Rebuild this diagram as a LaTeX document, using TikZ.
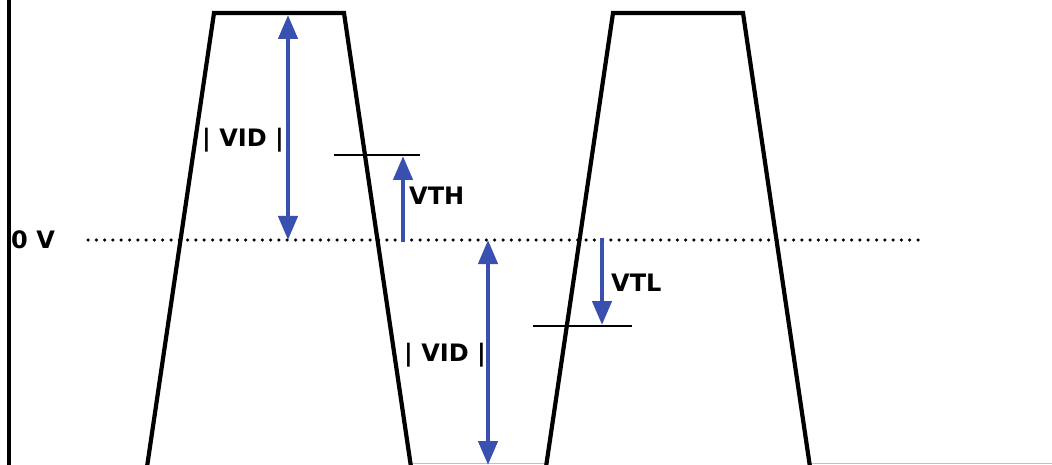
\documentclass[tikz,border=0pt]{standalone}
\usepackage{fontspec}
\setmainfont{DejaVu Sans}
\usetikzlibrary{arrows.meta}

\definecolor{levelblue}{RGB}{58,80,176}

\tikzset{
	wave/.style={line width=4.2pt, line join=miter},
	levelarrow/.style={levelblue, line width=4.5pt,
		-{Triangle[length=24pt, width=19pt]}},
	bothlevel/.style={levelblue, line width=4.5pt,
		{Triangle[length=24pt, width=19pt]}-{Triangle[length=24pt, width=19pt]}},
	threshold/.style={line width=2pt},
	lbl/.style={font=\bfseries\fontsize{24}{26}\selectfont, inner sep=0pt},
}

\begin{document}
\begin{tikzpicture}[x=1pt, y=-1pt]
	\useasboundingbox (0,0) rectangle (1052,465);

	% Frame edge and floor
	\draw [line width=3.5pt] (9,0) -- (9,465);
	\draw [black!25, line width=1pt] (410,463.5) -- (545,463.5);
	\draw [black!25, line width=1pt] (810,463.5) -- (1052,463.5);

	% Zero line
	\node (zero) [lbl, anchor=west] at (11,240) {0 V};
	\coordinate (zero start) at (88,240);
	\coordinate (zero end) at (918,240);
	\draw [line width=3.5pt, line cap=round, dash pattern=on 0pt off 8.3pt]
	      (zero start) -- (zero end);

	% Pulses
	\foreach \s in {0,399}{
		\draw [wave]
		      ([xshift=\s]147,467) -- ([xshift=\s]214,13)
		   -- ([xshift=\s]344,13) -- ([xshift=\s]411,467);
	}

	% High level
	\coordinate (top) at (288,15);
	\coordinate (zero a) at (288,240);
	\draw [bothlevel] (top) -- (zero a);
	\node (vid high) [lbl] at (243,140) {| VID |};

	\coordinate (th left) at (334,155);
	\coordinate (th right) at (420,155);
	\draw [threshold] (th left) -- (th right);
	\coordinate (zero b) at (403,242);
	\draw [levelarrow] (zero b) -- (403,156);
	\node (vth) [lbl, anchor=west] at (409,196) {VTH};

	% Low level
	\coordinate (zero c) at (488,240);
	\coordinate (floor) at (488,465);
	\draw [bothlevel] (zero c) -- (floor);
	\node (vid low) [lbl] at (445,355) {| VID |};

	\coordinate (tl left) at (533,326);
	\coordinate (tl right) at (632,326);
	\draw [threshold] (tl left) -- (tl right);
	\coordinate (zero d) at (602,238);
	\draw [levelarrow] (zero d) -- (602,325);
	\node (vtl) [lbl, anchor=west] at (611,283) {VTL};
\end{tikzpicture}
\end{document}
